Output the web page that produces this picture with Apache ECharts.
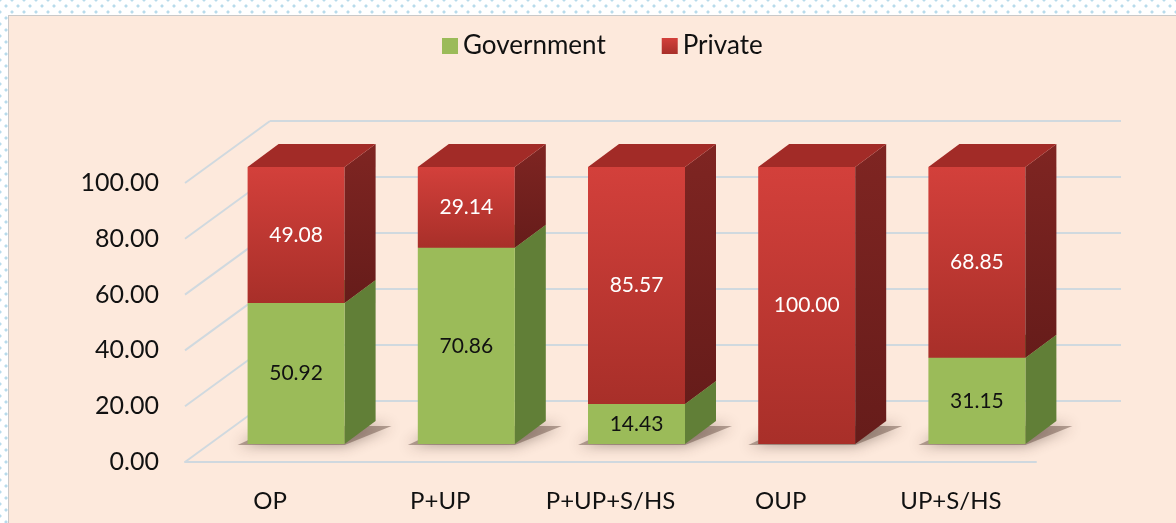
<!DOCTYPE html>
<html>
<head>
<meta charset="utf-8">
<script src="https://cdn.jsdelivr.net/npm/echarts@6/dist/echarts.min.js"></script>
<style>
  html, body { margin: 0; padding: 0; }
  body {
    width: 1176px; height: 523px; position: relative; overflow: hidden;
    background-color: #fff;
    background-image: radial-gradient(circle, #b8dbeb 1.3px, transparent 1.8px),
                      radial-gradient(circle, #b8dbeb 1.3px, transparent 1.8px);
    background-size: 12px 12px;
    background-position: 0 0, 6px 6px;
  }
  .panel {
    position: absolute; left: 8px; top: 15px; right: -2px; bottom: -2px;
    background: #fde9dc; border: 1.5px solid #c9c9c9;
  }
  #main { position: absolute; left: 0; top: 0; width: 1176px; height: 523px; }
</style>
</head>
<body>
<div class="panel"></div>
<div id="main"></div>
<script>
const categories = ['OP', 'P+UP', 'P+UP+S/HS', 'OUP', 'UP+S/HS'];
const government = [50.92, 70.86, 14.43, 0, 31.15];
const privateShare = [49.08, 29.14, 85.57, 100.0, 68.85];
const yTicks = [0, 20, 40, 60, 80, 100];

// 3d look
const DX = 31;
const DY = -23;
const BAR_W = 97;
const FONT = 'Lato, "Open Sans", sans-serif';

const chart = echarts.init(document.getElementById('main'));

const grad = (a, b) => new echarts.graphic.LinearGradient(0, 0, 0, 1, [
  { offset: 0, color: a },
  { offset: 1, color: b },
]);

const faceColors = {
  gov: { front: '#9bbb59', side: '#617f37', top: '#7f9c45' },
  priv: { front: grad('#d3403b', '#a82f29'), side: grad('#7f2522', '#661c1a'), top: '#a22b27' },
};

// side + top faces of each stacked segment
const depthFaces = (colors) => (params, api) => {
  const lo = api.coord([api.value(0), api.value(1)]);
  const hi = api.coord([api.value(0), api.value(2)]);
  const x0 = lo[0] - BAR_W / 2;
  const x1 = lo[0] + BAR_W / 2;
  if (Math.abs(lo[1] - hi[1]) < 0.5) return null;
  return {
    type: 'group',
    children: [
      {
        type: 'polygon',
        shape: { points: [[x1, lo[1]], [x1 + DX, lo[1] + DY], [x1 + DX, hi[1] + DY], [x1, hi[1]]] },
        style: { fill: colors.side },
      },
      {
        type: 'polygon',
        shape: { points: [[x0, hi[1]], [x1, hi[1]], [x1 + DX, hi[1] + DY], [x0 + DX, hi[1] + DY]] },
        style: { fill: colors.top },
      },
    ],
  };
};

const option = {
  animation: false,
  textStyle: { fontFamily: FONT },
  legend: {
    top: 28,
    left: 437,
    itemWidth: 16,
    itemHeight: 16,
    itemGap: 56,
    icon: 'rect',
    textStyle: { fontSize: 26, color: '#111', fontFamily: FONT },
    data: ['Government', 'Private'],
  },
  grid: [
    // front edge of the floor (axis labels)
    { left: 185, top: 183, width: 851, height: 279 },
    // back wall
    { left: 270, top: 121, width: 851, height: 280 },
    // plane of the bar fronts
    { left: 211, top: 167, width: 851, height: 277 },
  ],
  xAxis: [
    {
      gridIndex: 0, type: 'category', data: categories,
      axisLine: { lineStyle: { color: '#cfd8df', width: 2 } },
      axisTick: { show: false },
      axisLabel: { fontSize: 24, color: '#111', margin: 27, fontFamily: FONT },
    },
    { gridIndex: 1, type: 'category', data: categories, show: false },
    { gridIndex: 2, type: 'category', data: categories, show: false },
  ],
  yAxis: [
    {
      gridIndex: 0, type: 'value', min: 0, max: 100, interval: 20,
      axisLine: { show: false }, axisTick: { show: false }, splitLine: { show: false },
      axisLabel: { fontSize: 25, color: '#111', margin: 26, fontFamily: FONT, formatter: (v) => v.toFixed(2) },
    },
    {
      gridIndex: 1, type: 'value', min: 0, max: 100, interval: 20,
      axisLine: { show: false }, axisTick: { show: false }, axisLabel: { show: false },
      splitLine: { lineStyle: { color: '#d0d9df', width: 2 } },
    },
    {
      gridIndex: 2, type: 'value', min: 0, max: 100, interval: 20, show: false,
      splitLine: { show: false },
    },
  ],
  series: [
    // side wall diagonals
    {
      type: 'custom', xAxisIndex: 0, yAxisIndex: 0, silent: true, z: 1,
      data: yTicks.map((v) => [0, v]),
      renderItem: (params, api) => {
        const y = api.coord([0, api.value(1)])[1];
        const x = params.coordSys.x;
        return {
          type: 'line',
          shape: { x1: x, y1: y, x2: x + 85, y2: y - 62 },
          style: { stroke: '#d0d9df', lineWidth: 2 },
        };
      },
    },
    // floor shadows, soft
    {
      type: 'custom', xAxisIndex: 2, yAxisIndex: 2, silent: true, z: 2,
      data: categories.map((c, i) => [i, 0]),
      renderItem: (params, api) => {
        const p = api.coord([api.value(0), 0]);
        const x0 = p[0] - BAR_W / 2;
        const x1 = p[0] + BAR_W / 2;
        return {
          type: 'polygon',
          shape: { points: [[x0 - 10, p[1] + 1], [x1, p[1] + 1], [x1 + DX + 16, p[1] + DY + 5], [x0 + DX, p[1] + DY + 5]] },
          style: { fill: 'rgba(95,72,60,0.45)', shadowBlur: 14, shadowColor: 'rgba(60,40,30,1)' },
        };
      },
    },
    {
      name: 'Government', type: 'bar', stack: 'total', xAxisIndex: 2, yAxisIndex: 2, z: 3,
      barWidth: BAR_W,
      data: government,
      itemStyle: { color: faceColors.gov.front },
      label: {
        show: true, position: 'inside', fontSize: 21, color: '#111', fontFamily: FONT,
        formatter: (p) => (p.value > 0 ? p.value.toFixed(2) : ''),
      },
    },
    {
      name: 'Private', type: 'bar', stack: 'total', xAxisIndex: 2, yAxisIndex: 2, z: 3,
      barWidth: BAR_W,
      data: privateShare,
      itemStyle: { color: faceColors.priv.front },
      label: {
        show: true, position: 'inside', fontSize: 21, color: '#fff', fontFamily: FONT,
        formatter: (p) => p.value.toFixed(2),
      },
    },
    {
      type: 'custom', xAxisIndex: 2, yAxisIndex: 2, silent: true, z: 3,
      data: government.map((v, i) => [i, 0, v]),
      renderItem: depthFaces(faceColors.gov),
    },
    {
      type: 'custom', xAxisIndex: 2, yAxisIndex: 2, silent: true, z: 4,
      data: privateShare.map((v, i) => [i, government[i], government[i] + v]),
      renderItem: depthFaces(faceColors.priv),
    },
  ],
};

chart.setOption(option);
</script>
</body>
</html>
